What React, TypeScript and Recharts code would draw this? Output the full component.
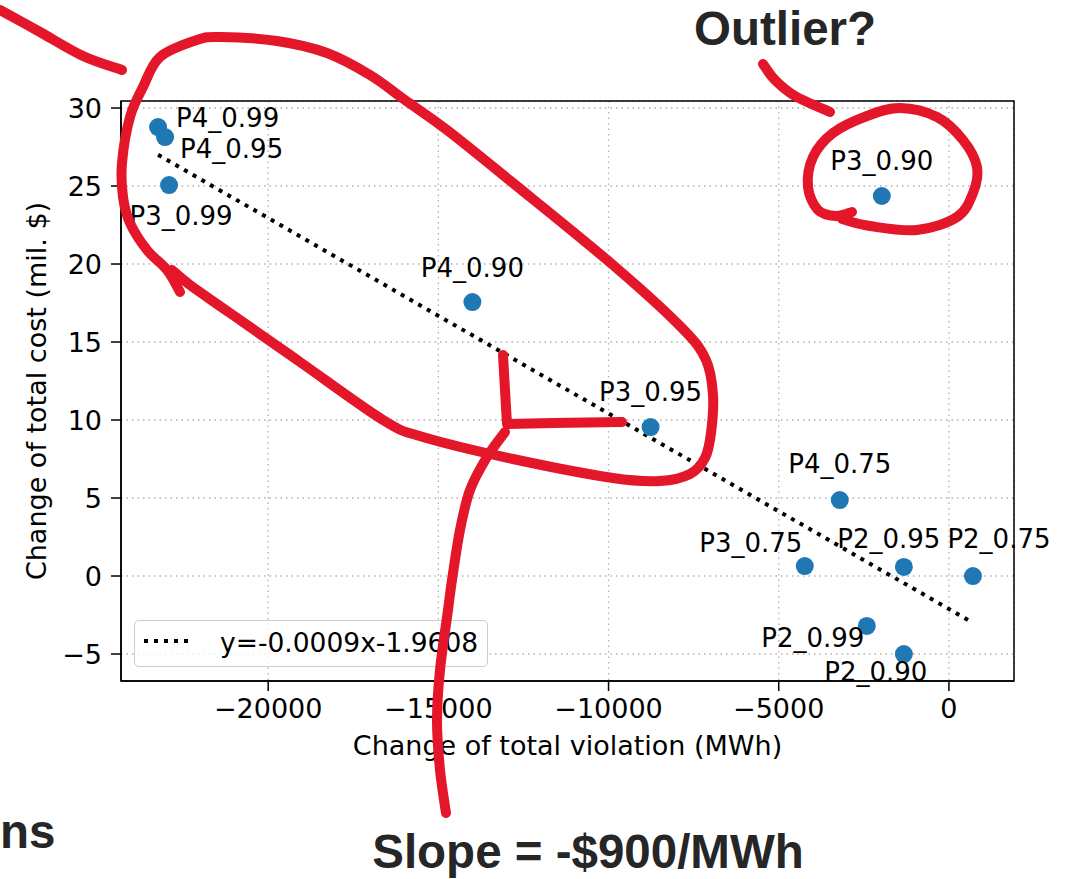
import React from 'react';
import {
  ScatterChart,
  Scatter,
  XAxis,
  YAxis,
  CartesianGrid,
  ReferenceLine,
  ReferenceArea,
  Legend,
} from 'recharts';

// ---------- data ----------
const pointLabels = [
  'P4_0.99', 'P4_0.95', 'P3_0.99', 'P4_0.90', 'P3_0.95', 'P3_0.90',
  'P4_0.75', 'P3_0.75', 'P2_0.95', 'P2_0.75', 'P2_0.99', 'P2_0.90',
];
const violationChange = [
  -23235, -23029, -22912, -14000, -8765, -1971,
  -3206, -4235, -1324, 706, -2412, -1324,
];
const costChange = [
  28.78, 28.14, 25.06, 17.56, 9.55, 24.36,
  4.87, 0.64, 0.58, 0.0, -3.2, -5.0,
];
const trendX = [-23235, 706];
const trendY = [27.0, -3.0];
const xTicks = [-20000, -15000, -10000, -5000, 0];
const yTicks = [-5, 0, 5, 10, 15, 20, 25, 30];
const xDomain = [-24324, 1912];
const yDomain = [-6.73, 30.45];
const legendText = 'y=-0.0009x-1.9608';
const xTitle = 'Change of total violation (MWh)';
const yTitle = 'Change of total cost (mil. $)';

// label placement (pixel offsets relative to marker centre): [dx, dy, anchor]
const labelPlacement: [number, number, string][] = [
  [18, 0, 'start'], [15, 21, 'start'], [12, 40, 'middle'], [0, -25, 'middle'],
  [0, -26, 'middle'], [0, -26, 'middle'], [0, -27, 'middle'], [-54, -14, 'middle'],
  [-15, -19, 'middle'], [26, -28, 'middle'], [-54, 21, 'middle'], [-28, 27, 'middle'],
];

const points = pointLabels.map((name, i) => ({
  name,
  x: violationChange[i],
  y: costChange[i],
  idx: i,
}));

// ---------- styles ----------
const FONT = "'DejaVu Sans', sans-serif";
const BOLD = "'Liberation Sans', Arial, sans-serif";
const RED = '#e3162a';
const BLUE = '#1f77b4';

const fmt = (v: number) => String(v).replace('-', '\u2212');

// freehand annotation strokes (pixel space of the slide)
const strokes: number[][][] = [
  [[0, 10], [40, 32], [83, 56], [122, 70]],
  [
    [172, 270], [190, 285], [230, 313], [300, 362], [383, 420], [423, 437],
    [513, 459], [613, 478], [660, 481], [690, 474], [705, 458], [711, 433],
    [713, 395], [706, 360], [682, 328], [613, 265], [513, 183], [447, 130],
    [405, 100], [370, 75], [327, 53], [277, 41], [220, 37], [197, 40],
    [160, 57], [143, 87], [130, 117], [122, 163], [123, 197], [130, 223],
    [147, 250], [167, 270], [180, 292],
  ],
  [[763, 64], [775, 80], [795, 96], [830, 112]],
  [
    [842, 219], [870, 226], [917, 230], [957, 217], [973, 193],
    [977, 167], [963, 140], [937, 117], [900, 108], [867, 116], [833, 133],
    [813, 157], [808, 187], [818, 210], [836, 216], [852, 212],
  ],
  [
    [505, 432], [487, 457], [470, 490], [460, 530], [452, 580], [448, 610],
    [440, 670], [437, 720], [440, 770], [446, 813],
  ],
];

function smoothPath(pts: number[][]) {
  let d = `M${pts[0][0]},${pts[0][1]}`;
  for (let i = 0; i < pts.length - 1; i++) {
    const p0 = pts[i - 1] || pts[i];
    const p1 = pts[i];
    const p2 = pts[i + 1];
    const p3 = pts[i + 2] || p2;
    const c1x = p1[0] + (p2[0] - p0[0]) / 6;
    const c1y = p1[1] + (p2[1] - p0[1]) / 6;
    const c2x = p2[0] - (p3[0] - p1[0]) / 6;
    const c2y = p2[1] - (p3[1] - p1[1]) / 6;
    d += ` C${c1x},${c1y} ${c2x},${c2y} ${p2[0]},${p2[1]}`;
  }
  return d;
}

const Dot = (props: any) => {
  const { cx, cy } = props;
  if (cx == null || cy == null) return null;
  return <circle cx={cx} cy={cy} r={9} fill={BLUE} />;
};

const PointLabel = (props: any) => {
  const { cx, cy, payload } = props;
  if (cx == null || cy == null || !payload) return null;
  const [dx, dy, anchor] = labelPlacement[payload.idx];
  return (
    <text
      x={cx + dx}
      y={cy + dy}
      textAnchor={anchor as any}
      fontSize={26}
      fontFamily={FONT}
      fill="#000"
    >
      {payload.name}
    </text>
  );
};

const LegendBox = () => (
  <div
    style={{
      width: 352,
      height: 45,
      border: '1px solid #cccccc',
      borderRadius: 5,
      background: 'rgba(255,255,255,0.8)',
      position: 'relative',
      boxSizing: 'content-box',
    }}
  >
    <svg width={352} height={45} style={{ position: 'absolute', left: 0, top: 0 }}>
      <line
        x1={9}
        y1={20}
        x2={58}
        y2={20}
        stroke="#000"
        strokeWidth={4}
        strokeDasharray="4 6"
      />
      <text x={85} y={31} fontSize={26.5} fontFamily={FONT} fill="#000">
        {legendText}
      </text>
    </svg>
  </div>
);

export default function App() {
  return (
    <div style={{ position: 'absolute', left: 0, top: 0, width: 1079, height: 879, background: '#fff' }}>
      <ScatterChart
        width={1079}
        height={879}
        margin={{ top: 101, right: 65, bottom: 138, left: 41 }}
      >
        <CartesianGrid stroke="#b0b0b0" strokeDasharray="1.5 4" strokeWidth={1.3} />
        <XAxis
          type="number"
          dataKey="x"
          domain={xDomain}
          ticks={xTicks}
          height={60}
          tickSize={10}
          tickMargin={8}
          tickFormatter={fmt}
          axisLine={{ stroke: '#000', strokeWidth: 1.5 }}
          tickLine={{ stroke: '#000', strokeWidth: 1.5 }}
          tick={{ fill: '#000', fontSize: 27, fontFamily: FONT }}
        />
        <YAxis
          type="number"
          dataKey="y"
          domain={yDomain}
          ticks={yTicks}
          width={80}
          tickSize={10}
          tickMargin={9}
          tickFormatter={fmt}
          axisLine={{ stroke: '#000', strokeWidth: 1.5 }}
          tickLine={{ stroke: '#000', strokeWidth: 1.5 }}
          tick={{ fill: '#000', fontSize: 27, fontFamily: FONT }}
        />
        <ReferenceArea
          x1={xDomain[0]}
          x2={xDomain[1]}
          y1={yDomain[0]}
          y2={yDomain[1]}
          fill="none"
          fillOpacity={0}
          stroke="#000"
          strokeWidth={1.5}
          ifOverflow="visible"
        />
        <ReferenceLine
          segment={[
            { x: trendX[0], y: trendY[0] },
            { x: trendX[1], y: trendY[1] },
          ]}
          stroke="#000"
          strokeWidth={4}
          strokeDasharray="4 6"
          ifOverflow="visible"
        />
        <Scatter data={points} shape={Dot} isAnimationActive={false} legendType="none" />
        <Scatter data={points} shape={PointLabel} isAnimationActive={false} legendType="none" />
        <Legend
          layout="horizontal"
          verticalAlign="middle"
          align="center"
          content={LegendBox}
          wrapperStyle={{ position: 'absolute', left: 134, top: 620, width: 354, height: 47 }}
        />
      </ScatterChart>
      <svg
        width={1079}
        height={879}
        style={{ position: 'absolute', left: 0, top: 0, pointerEvents: 'none' }}
      >
        <text x={567.5} y={755} textAnchor="middle" fontSize={27} fontFamily={FONT} fill="#000">
          {xTitle}
        </text>
        <text
          transform="translate(46,391) rotate(-90)"
          textAnchor="middle"
          fontSize={27}
          fontFamily={FONT}
          fill="#000"
        >
          {yTitle}
        </text>
        <text x={785} y={45} textAnchor="middle" fontSize={47.5} fontWeight="bold" fontFamily={BOLD} fill="#262626">
          Outlier?
        </text>
        <text x={588} y={868} textAnchor="middle" fontSize={47.5} fontWeight="bold" fontFamily={BOLD} fill="#262626">
          Slope = -$900/MWh
        </text>
        <text x={0} y={848} textAnchor="start" fontSize={47.5} fontWeight="bold" fontFamily={BOLD} fill="#262626">
          ns
        </text>
        {strokes.map((s, i) => (
          <path
            key={i}
            d={smoothPath(s)}
            fill="none"
            stroke={RED}
            strokeWidth={10}
            strokeLinecap="round"
            strokeLinejoin="round"
          />
        ))}
        <path
          d="M503,355 L505,390 L507,424 L553,423 L622,422"
          fill="none"
          stroke={RED}
          strokeWidth={10}
          strokeLinecap="round"
          strokeLinejoin="round"
        />
      </svg>
    </div>
  );
}
